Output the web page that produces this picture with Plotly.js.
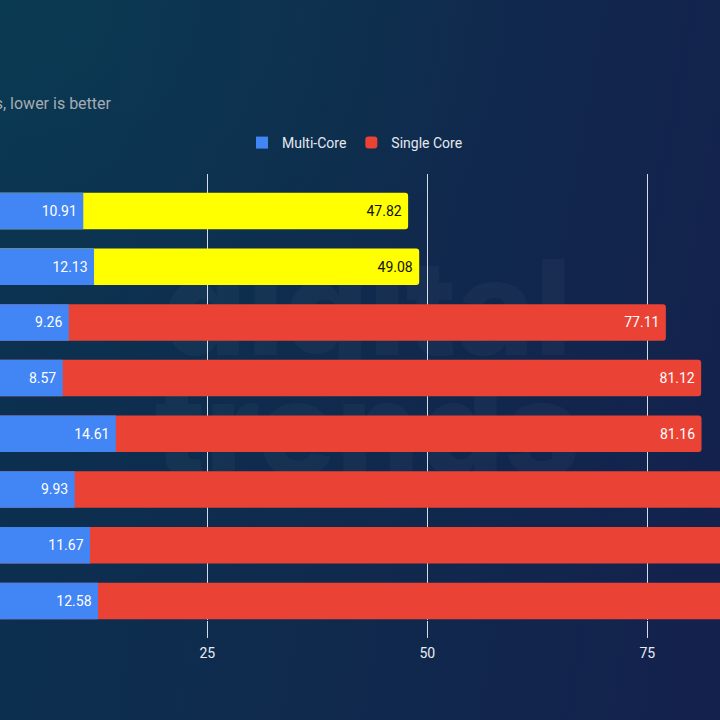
<!DOCTYPE html>
<html>
<head>
<meta charset="utf-8">
<script src="https://cdn.plot.ly/plotly-3.0.1.min.js"></script>
<style>
  html, body { margin: 0; padding: 0; }
  #chart {
    width: 720px;
    height: 720px;
    background:
      radial-gradient(ellipse 520px 420px at 0% 0%, rgba(10, 64, 84, 0.6), rgba(10, 64, 84, 0) 100%),
      linear-gradient(100deg, #0b3150 0%, #0f2b4d 45%, #14214d 100%);
  }
</style>
</head>
<body>
<div id="chart"></div>
<script>
// Benchmark times in seconds (lower is better), one row per system, fastest first.
const ranks = [1, 2, 3, 4, 5, 6, 7, 8];
const multiCore = [10.91, 12.13, 9.26, 8.57, 14.61, 9.93, 11.67, 12.58];
const singleCore = [47.82, 49.08, 77.11, 81.12, 81.16, 89.4, 93.2, 97.6];
const seriesNames = ['Multi-Core', 'Single Core'];
const xTicks = [25, 50, 75];

// The first rows are the featured systems, drawn in yellow.
const FEATURED = 2;

const BLUE = '#4285f4';
const RED = '#ea4335';
const YELLOW = '#ffff00';
const BAR_W = 0.655;
const X_RANGE = [12.7 / 8.8, 732.7 / 8.8];
const labelFont = { family: 'Roboto, sans-serif', size: 14 };

const pick = (arr, keep) => arr.filter((_, i) => keep(i));
const isFeatured = i => i < FEATURED;
const isRegular = i => i >= FEATURED;
// Value labels only for bars that end inside the visible x range.
const labelPos = vals => vals.map(v => (v < X_RANGE[1] ? 'inside' : 'none'));

function singleTrace(keep, color, textColor, showlegend) {
  const xs = pick(singleCore, keep);
  return {
    type: 'bar',
    orientation: 'h',
    name: seriesNames[1],
    legendrank: 2,
    showlegend: showlegend,
    x: xs,
    y: pick(ranks, keep),
    width: BAR_W,
    marker: { color: color, cornerradius: 3, line: { width: 0 } },
    texttemplate: '%{x:.2f}\u00a0',
    textposition: labelPos(xs),
    insidetextanchor: 'end',
    textangle: 0,
    constraintext: 'none',
    insidetextfont: Object.assign({ color: textColor }, labelFont),
    hoverinfo: 'skip'
  };
}

const traces = [
  singleTrace(isFeatured, YELLOW, '#111111', false),
  singleTrace(isRegular, RED, '#ffffff', true),
  {
    type: 'bar',
    orientation: 'h',
    name: seriesNames[0],
    legendrank: 1,
    x: multiCore,
    y: ranks,
    width: BAR_W,
    marker: { color: BLUE, line: { width: 0 } },
    texttemplate: '%{x:.2f}\u00a0',
    textposition: labelPos(multiCore),
    insidetextanchor: 'end',
    textangle: 0,
    constraintext: 'none',
    insidetextfont: Object.assign({ color: '#ffffff' }, labelFont),
    hoverinfo: 'skip'
  }
];

const watermarkFont = { family: 'Inter, sans-serif', size: 132, color: 'rgba(255,255,255,0.03)', weight: 800 };

const layout = {
  width: 720,
  height: 720,
  margin: { l: 0, r: 0, t: 174, b: 100, pad: 0 },
  paper_bgcolor: 'rgba(0,0,0,0)',
  plot_bgcolor: 'rgba(0,0,0,0)',
  barmode: 'overlay',
  showlegend: true,
  legend: {
    orientation: 'h',
    x: 0.5 - 5 / 720,
    xanchor: 'center',
    y: 1.0695,
    yanchor: 'middle',
    itemwidth: 30,
    font: { family: 'Roboto, sans-serif', size: 14, color: '#e4e8ef' },
    bgcolor: 'rgba(0,0,0,0)'
  },
  xaxis: {
    range: X_RANGE,
    tickvals: xTicks,
    ticktext: xTicks.map(String),
    showgrid: true,
    gridcolor: 'rgba(235,240,248,0.9)',
    gridwidth: 1,
    ticks: 'outside',
    ticklen: 17,
    tickwidth: 1,
    tickcolor: 'rgba(235,240,248,0.9)',
    ticklabelstandoff: 3,
    tickfont: { family: 'Roboto, sans-serif', size: 14, color: '#e8ecf3' },
    zeroline: false,
    showline: false,
    fixedrange: true
  },
  yaxis: {
    range: [8.343, 0.336],
    showticklabels: false,
    showgrid: false,
    zeroline: false,
    showline: false,
    ticks: '',
    fixedrange: true
  },
  annotations: [
    {
      text: 'Time in seconds, lower is better',
      xref: 'paper', yref: 'paper',
      x: 114 / 720, xanchor: 'right',
      y: 1.157, yanchor: 'middle',
      showarrow: false,
      font: { family: 'Roboto, sans-serif', size: 16, color: '#a6acb3' }
    }
  ],
  shapes: [
    {
      type: 'rect', layer: 'below', xref: 'paper', yref: 'paper',
      x0: 0.15, x1: 0.87, y0: 0.56, y1: 0.86,
      line: { width: 0 }, fillcolor: 'rgba(0,0,0,0)',
      label: { text: 'digital', font: watermarkFont, textposition: 'middle center' }
    },
    {
      type: 'rect', layer: 'below', xref: 'paper', yref: 'paper',
      x0: 0.15, x1: 0.87, y0: 0.3, y1: 0.58,
      line: { width: 0 }, fillcolor: 'rgba(0,0,0,0)',
      label: { text: 'trends', font: watermarkFont, textposition: 'middle center' }
    }
  ]
};

Plotly.newPlot('chart', traces, layout, { displayModeBar: false, staticPlot: true });
</script>
</body>
</html>
